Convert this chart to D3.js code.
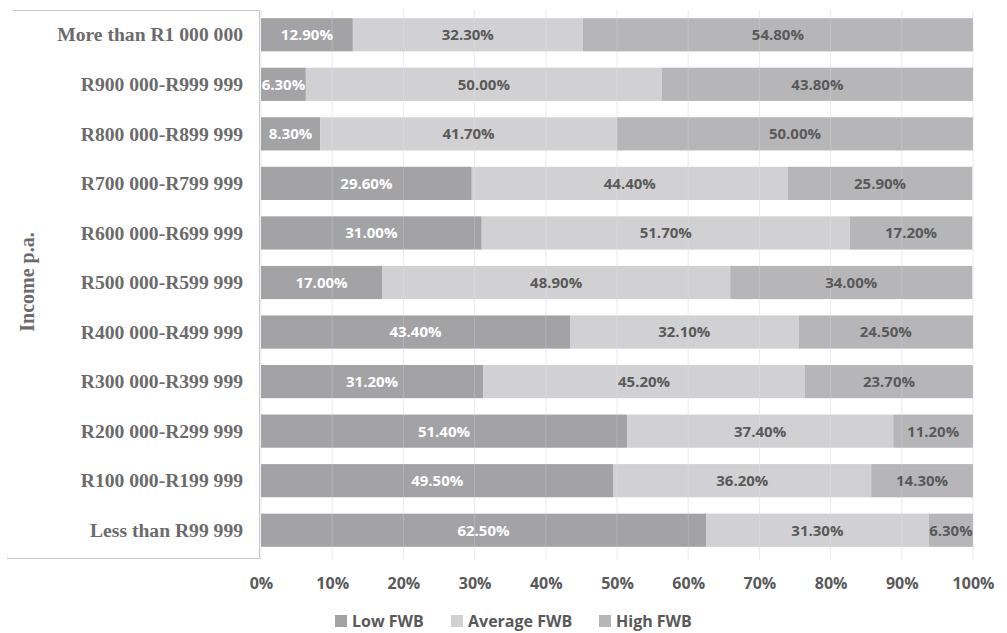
<!DOCTYPE html>
<html>
<head>
<meta charset="utf-8">
<script src="https://cdn.jsdelivr.net/npm/d3@7"></script>
<style>
  body { margin: 0; background: #fff; }
</style>
</head>
<body>
<script>
// constants
const w = 1007;
const h = 633;

// data (top row first)
const categories = [
  "More than R1 000 000", "R900 000-R999 999", "R800 000-R899 999",
  "R700 000-R799 999", "R600 000-R699 999", "R500 000-R599 999",
  "R400 000-R499 999", "R300 000-R399 999", "R200 000-R299 999",
  "R100 000-R199 999", "Less than R99 999"
];
const seriesNames = ["Low FWB", "Average FWB", "High FWB"];
const lowFWB     = [12.9, 6.3, 8.3, 29.6, 31.0, 17.0, 43.4, 31.2, 51.4, 49.5, 62.5];
const averageFWB = [32.3, 50.0, 41.7, 44.4, 51.7, 48.9, 32.1, 45.2, 37.4, 36.2, 31.3];
const highFWB    = [54.8, 43.8, 50.0, 25.9, 17.2, 34.0, 24.5, 23.7, 11.2, 14.3, 6.3];
const xTicks = [0, 10, 20, 30, 40, 50, 60, 70, 80, 90, 100];

const colors = ["#a3a3a6", "#d1d1d3", "#b6b6b9"];
const textColors = ["#ffffff", "#595959", "#595959"];

const rows = categories.map((c, i) => ({ cat: c, vals: [lowFWB[i], averageFWB[i], highFWB[i]] }));

// scales
const xScale = d3.scaleLinear().domain([0, 100]).range([261, 973]);
const yScale = d3.scaleBand().domain(categories).range([10, 555])
  .paddingInner(0.33).paddingOuter(0.165);

const svg = d3.select("body").append("svg")
  .attr("width", w).attr("height", h);

// gridlines behind
svg.append("g").selectAll("line").data(xTicks).enter().append("line")
  .attr("x1", d => xScale(d)).attr("x2", d => xScale(d))
  .attr("y1", 10).attr("y2", 560)
  .attr("stroke", "#e8e8e8").attr("stroke-width", 1);

// segments
const segs = [];
rows.forEach(r => {
  let acc = 0;
  r.vals.forEach((v, k) => {
    const x0 = acc;
    const x1 = Math.min(acc + v, 100);
    acc += v;
    segs.push({ cat: r.cat, k: k, v: v, x0: x0, x1: x1 });
  });
});

svg.append("g").selectAll("rect").data(segs).enter().append("rect")
  .attr("x", d => xScale(d.x0))
  .attr("width", d => xScale(d.x1) - xScale(d.x0))
  .attr("y", d => yScale(d.cat))
  .attr("height", yScale.bandwidth())
  .attr("fill", d => colors[d.k]);

// faint gridlines over the bars
svg.append("g").selectAll("line").data(xTicks.slice(1)).enter().append("line")
  .attr("x1", d => xScale(d)).attr("x2", d => xScale(d))
  .attr("y1", 10).attr("y2", 560)
  .attr("stroke", "#ffffff").attr("stroke-opacity", 0.18).attr("stroke-width", 1);

// value labels
svg.append("g").selectAll("text").data(segs).enter().append("text")
  .attr("x", d => (xScale(d.x0) + xScale(d.x1)) / 2)
  .attr("y", d => yScale(d.cat) + yScale.bandwidth() / 2)
  .attr("dy", "0.36em")
  .attr("text-anchor", "middle")
  .attr("font-family", "'Open Sans', sans-serif")
  .attr("font-weight", "bold")
  .attr("font-size", 15)
  .attr("fill", d => textColors[d.k])
  .text(d => d.v.toFixed(2) + "%");

// label box
svg.append("rect").attr("x", 0).attr("y", 0).attr("width", 259).attr("height", 558).attr("fill", "#fff");
svg.append("path")
  .attr("d", "M13,10.5 H259.5 V558.5 H7")
  .attr("fill", "none").attr("stroke", "#c8c8c8").attr("stroke-width", 1);

// category labels
svg.append("g").selectAll("text").data(categories).enter().append("text")
  .attr("x", 243)
  .attr("y", d => yScale(d) + yScale.bandwidth() / 2)
  .attr("dy", "0.34em")
  .attr("text-anchor", "end")
  .attr("font-family", "'Liberation Serif', 'Times New Roman', serif")
  .attr("font-weight", "bold")
  .attr("font-size", 19.6)
  .attr("fill", "#6b6b6b")
  .text(d => d);

// axis title
svg.append("text")
  .attr("transform", "translate(34,282) rotate(-90)")
  .attr("text-anchor", "middle")
  .attr("font-family", "'Liberation Serif', 'Times New Roman', serif")
  .attr("font-weight", "bold")
  .attr("font-size", 20)
  .attr("fill", "#6b6b6b")
  .text("Income p.a.");

// x axis
const xAxis = d3.axisBottom(xScale).tickValues(xTicks).tickFormat(d => d + "%").tickSize(0);
const gx = svg.append("g").attr("transform", "translate(0,583)").call(xAxis);
gx.select(".domain").remove();
gx.selectAll("text")
  .attr("y", 0).attr("dy", "0.36em")
  .attr("font-family", "'Open Sans', sans-serif")
  .attr("font-weight", "bold")
  .attr("font-size", 16)
  .attr("fill", "#595959");

// legend
const legendX = [335, 451, 599];
const lg = svg.append("g").selectAll("g").data(seriesNames).enter().append("g")
  .attr("transform", (d, i) => "translate(" + legendX[i] + ",621)");
lg.append("rect").attr("x", 0).attr("y", -6).attr("width", 12).attr("height", 12)
  .attr("fill", (d, i) => colors[i]);
lg.append("text").attr("x", 17).attr("y", 0).attr("dy", "0.36em")
  .attr("font-family", "'Open Sans', sans-serif")
  .attr("font-weight", "bold")
  .attr("font-size", 16)
  .attr("fill", "#595959")
  .text(d => d);
</script>
</body>
</html>
